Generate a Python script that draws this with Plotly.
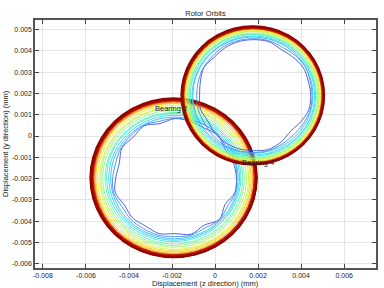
import numpy as np
import plotly.graph_objects as go

# ---------------- data ----------------
ANGLES_DEG = [0, 15, 30, 45, 60, 75, 90, 105, 120, 135, 150, 165,
              180, 195, 210, 225, 240, 255, 270, 285, 300, 315, 330, 345]

# Bearing 2 orbits: centre (mm) and radii (x1e-3 mm), inner -> outer
B2_CENTER = (-0.00192, -0.00197)
B2_YSCALE = 0.965
B2_RADII = [2.80, 2.88, 2.96, 3.04, 3.12, 3.20, 3.29, 3.38, 3.46, 3.54,
            3.61, 3.67, 3.72, 3.76, 3.79, 3.82, 3.85, 3.87]
# centre offsets per orbit (x1e-3 mm)
B2_DX = [0.06, 0.04, 0.03, 0.02, 0.00, 0.01, -0.01, 0.00, 0.02, 0.00,
         -0.01, 0.00, 0.01, 0.00, -0.01, 0.01, 0.00, -0.01]
B2_DY = [0.04, 0.02, 0.00, 0.01, 0.02, -0.01, 0.00, 0.01, -0.02, 0.00,
         0.01, 0.00, -0.01, 0.01, 0.00, -0.01, 0.00, 0.01]
# radial deviations (x1e-3 mm) of the irregular inner orbits
B2_DEV_0 = [0.05, 0.00, -0.10, 0.05, -0.05, 0.00, 0.05, -0.10, 0.08, -0.05, 0.05, -0.12,
            -0.05, 0.08, -0.08, 0.00, -0.05, 0.05, -0.05, 0.08, -0.10, 0.12, -0.12, 0.08]
B2_DEV_1 = [0.00, 0.03, -0.05, 0.00, 0.03, 0.00, 0.00, -0.05, 0.05, 0.00, 0.00, -0.05,
            0.00, 0.05, -0.05, 0.00, 0.00, 0.03, 0.00, 0.03, -0.05, 0.05, -0.05, 0.03]

# Bearing 4 orbits
B4_CENTER = (0.00176, 0.00190)
B4_YSCALE = 0.98
B4_RADII = [2.66, 2.73, 2.79, 2.85, 2.91, 2.96, 3.01, 3.06, 3.10, 3.14,
            3.17, 3.20, 3.22, 3.24, 3.26, 3.28, 3.30, 3.32]
B4_DX = [0.03, 0.02, 0.00, 0.02, 0.00, -0.01, 0.01, 0.00, -0.01, 0.00,
         0.01, 0.00, -0.01, 0.00, 0.01, 0.00, 0.00, -0.01]
B4_DY = [0.02, 0.00, 0.02, 0.00, 0.01, 0.00, -0.01, 0.01, 0.00, -0.01,
         0.00, 0.01, 0.00, -0.01, 0.00, 0.01, 0.00, 0.01]
B4_DEV_0 = [0.00, -0.03, 0.00, -0.08, -0.12, 0.00, 0.00, 0.00, -0.03, -0.08, 0.00, -0.10,
            -0.15, -0.10, -0.20, -0.10, -0.03, 0.00, 0.00, 0.03, -0.08, -0.22, -0.12, 0.00]
B4_DEV_1 = [0.00, 0.00, 0.05, 0.00, -0.05, 0.00, 0.00, 0.00, 0.00, -0.05, -0.05, -0.08,
            -0.10, -0.08, -0.10, -0.05, 0.00, 0.00, 0.00, 0.00, -0.05, -0.08, -0.05, 0.00]

ORBIT_COLORS = ["#3c50e0", "#3c8cf0", "#30b4f8", "#28d4ec", "#38ecd0", "#5cf4b0",
                "#88f888", "#b0f460", "#d4f040", "#f0e828", "#f8c810", "#f89800",
                "#e86000", "#d03000", "#b81800", "#a80c00", "#a00800", "#900400"]

X_TICKS = [-0.008, -0.006, -0.004, -0.002, 0, 0.002, 0.004, 0.006]
X_TICKTEXT = ["-0.008", "-0.006", "-0.004", "-0.002", "0", "0.002", "0.004", "0.006"]
Y_TICKS = [-0.006, -0.005, -0.004, -0.003, -0.002, -0.001, 0, 0.001, 0.002, 0.003, 0.004, 0.005]
Y_TICKTEXT = ["-0.006", "-0.005", "-0.004", "-0.003", "-0.002", "-0.001", "0",
              "0.001", "0.002", "0.003", "0.004", "0.005"]

LABELS = [("Bearing 2", -0.00287, 0.00127), ("Bearing 4", 0.00118, -0.00125)]

# ---------------- figure ----------------
fig = go.Figure()
theta = np.radians(ANGLES_DEG + [ANGLES_DEG[0]])


def add_bearing(center, yscale, radii, dxs, dys, devs):
    n = len(radii)
    for i, r in enumerate(radii):
        dev = devs.get(i, [0.0] * len(ANGLES_DEG))
        rr = (np.array(dev + [dev[0]]) + r) * 1e-3
        x = center[0] + dxs[i] * 1e-3 + rr * np.cos(theta)
        y = center[1] + dys[i] * 1e-3 + rr * yscale * np.sin(theta)
        red = i >= n - 5
        fig.add_trace(go.Scatter(
            x=x, y=y, mode="lines",
            line=dict(color=ORBIT_COLORS[i], width=1.9 if red else 0.9,
                      shape="spline", smoothing=0.9),
            hoverinfo="skip", showlegend=False))


add_bearing(B2_CENTER, B2_YSCALE, B2_RADII, B2_DX, B2_DY, {0: B2_DEV_0, 1: B2_DEV_1})
add_bearing(B4_CENTER, B4_YSCALE, B4_RADII, B4_DX, B4_DY, {0: B4_DEV_0, 1: B4_DEV_1})

FONT = "Liberation Sans, Arial, sans-serif"
for text, lx, ly in LABELS:
    fig.add_annotation(x=lx, y=ly, text=text, showarrow=False, xanchor="left",
                       yanchor="middle", font=dict(family=FONT, size=7.5, color="#222"))

fig.add_annotation(x=0.5, y=0, xref="paper", yref="paper", yshift=-15,
                   text="Displacement (z direction) (mm)", showarrow=False,
                   xanchor="center", yanchor="middle",
                   font=dict(family=FONT, size=7.5, color="#222"))
fig.add_annotation(x=0, y=0.5, xref="paper", yref="paper", xshift=-30,
                   text="Displacement (y direction) (mm)", showarrow=False, textangle=-90,
                   xanchor="center", yanchor="middle",
                   font=dict(family=FONT, size=7.5, color="#222"))

axis_common = dict(showgrid=True, gridcolor="#e4e4e4", gridwidth=1, zeroline=False,
                   showline=True, linecolor="#555", linewidth=1.5, mirror="ticks",
                   ticks="inside", ticklen=4, tickcolor="#444", tickwidth=1,
                   tickfont=dict(family=FONT, size=7, color="#222"))

fig.update_xaxes(range=[-0.00837, 0.00748], tickvals=X_TICKS, ticktext=X_TICKTEXT, **axis_common)
fig.update_yaxes(range=[-0.0062, 0.00545], tickvals=Y_TICKS, ticktext=Y_TICKTEXT, **axis_common)

fig.update_layout(
    width=384, height=288,
    margin=dict(l=35, r=6, t=20, b=20),
    paper_bgcolor="white", plot_bgcolor="white",
    title=dict(text="Rotor Orbits", x=0.5, xref="paper", y=1 - 13 / 288, yref="container",
               xanchor="center", yanchor="middle",
               font=dict(family=FONT, size=7.5, color="#222")),
)

fig.write_html("out.html")
